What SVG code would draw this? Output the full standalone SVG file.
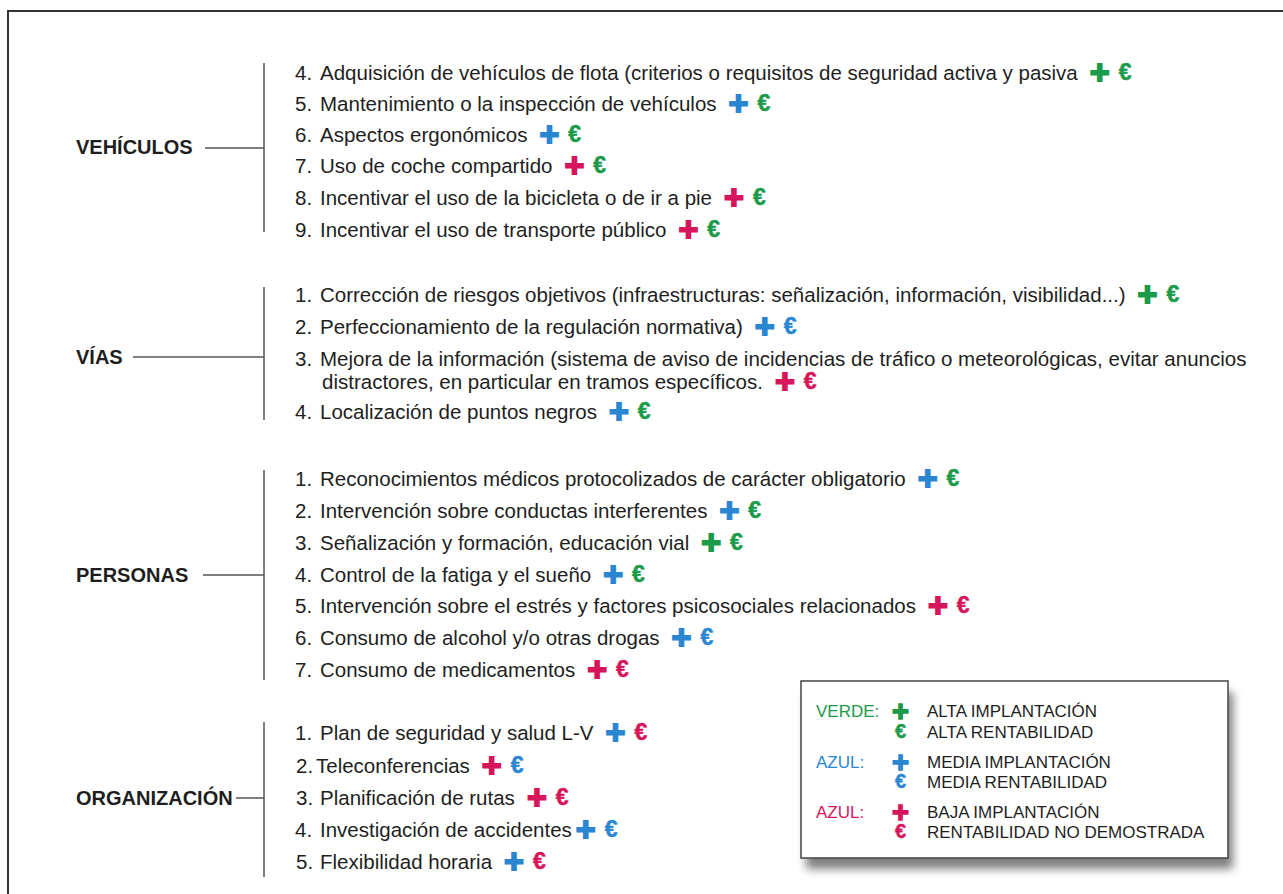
<svg xmlns="http://www.w3.org/2000/svg" width="1283" height="894" viewBox="0 0 1283 894">
<style>
text{font-family:"Liberation Sans",Arial,Helvetica,sans-serif;fill:#1e1e1e}
.it{font-size:20.5px}
.cat{font-size:20px;font-weight:bold}
.p{font-size:34px;font-weight:bold;stroke-width:1.8}
.e{font-size:23px;font-weight:bold;stroke-width:0.5}
.g{fill:#1b9a4a;stroke:#1b9a4a}
.b{fill:#2b86d2;stroke:#2b86d2}
.m{fill:#d7155c;stroke:#d7155c}
.ln{stroke:#555;stroke-width:1.5;fill:none}
.lg{font-size:17px}
.lp{font-size:29px;font-weight:bold;stroke-width:1.5}
.le{font-size:20px;font-weight:bold;stroke-width:0.4}
.ns{stroke:none}
</style>
<defs>
<filter id="sh" x="-10%" y="-10%" width="130%" height="140%">
<feGaussianBlur stdDeviation="5"/>
</filter>
</defs>
<path d="M8,894 V11 H1283" fill="none" stroke="#333" stroke-width="2"/>
<g id="connectors">
<path class="ln" d="M205,148 H264 M264,63 V232"/>
<path class="ln" d="M133,357 H264 M264,287 V420"/>
<path class="ln" d="M203,575 H264 M264,470 V680"/>
<path class="ln" d="M236,798 H264 M264,722 V877"/>
</g>
<g id="vehiculos">
<text class="cat" x="76" y="154">VEHÍCULOS</text>
<text class="it" y="80"><tspan x="295">4.</tspan><tspan x="320">Adquisición de vehículos de flota (criterios o requisitos de seguridad activa y pasiva</tspan><tspan class="p g" dx="12" dy="4">+</tspan><tspan class="e g" dx="9" dy="-4">€</tspan></text>
<text class="it" y="111"><tspan x="295">5.</tspan><tspan x="320">Mantenimiento o la inspección de vehículos</tspan><tspan class="p b" dx="12" dy="4">+</tspan><tspan class="e g" dx="9" dy="-4">€</tspan></text>
<text class="it" y="142"><tspan x="295">6.</tspan><tspan x="320">Aspectos ergonómicos</tspan><tspan class="p b" dx="12" dy="4">+</tspan><tspan class="e g" dx="9" dy="-4">€</tspan></text>
<text class="it" y="173"><tspan x="295">7.</tspan><tspan x="320">Uso de coche compartido</tspan><tspan class="p m" dx="12" dy="4">+</tspan><tspan class="e g" dx="9" dy="-4">€</tspan></text>
<text class="it" y="205"><tspan x="295">8.</tspan><tspan x="320">Incentivar el uso de la bicicleta o de ir a pie</tspan><tspan class="p m" dx="12" dy="4">+</tspan><tspan class="e g" dx="9" dy="-4">€</tspan></text>
<text class="it" y="237"><tspan x="295">9.</tspan><tspan x="320">Incentivar el uso de transporte público</tspan><tspan class="p m" dx="12" dy="4">+</tspan><tspan class="e g" dx="9" dy="-4">€</tspan></text>
</g>
<g id="vias">
<text class="cat" x="76" y="364">VÍAS</text>
<text class="it" y="302"><tspan x="295">1.</tspan><tspan x="320">Corrección de riesgos objetivos (infraestructuras: señalización, información, visibilidad...)</tspan><tspan class="p g" dx="12" dy="4">+</tspan><tspan class="e g" dx="9" dy="-4">€</tspan></text>
<text class="it" y="334"><tspan x="295">2.</tspan><tspan x="320">Perfeccionamiento de la regulación normativa)</tspan><tspan class="p b" dx="12" dy="4">+</tspan><tspan class="e b" dx="9" dy="-4">€</tspan></text>
<text class="it" y="366"><tspan x="295">3.</tspan><tspan x="320">Mejora de la información (sistema de aviso de incidencias de tráfico o meteorológicas, evitar anuncios</tspan></text>
<text class="it" y="389"><tspan x="322">distractores, en particular en tramos específicos.</tspan><tspan class="p m" dx="12" dy="4">+</tspan><tspan class="e m" dx="9" dy="-4">€</tspan></text>
<text class="it" y="419"><tspan x="295">4.</tspan><tspan x="320">Localización de puntos negros</tspan><tspan class="p b" dx="12" dy="4">+</tspan><tspan class="e g" dx="9" dy="-4">€</tspan></text>
</g>
<g id="personas">
<text class="cat" x="76" y="582">PERSONAS</text>
<text class="it" y="486"><tspan x="295">1.</tspan><tspan x="320">Reconocimientos médicos protocolizados de carácter obligatorio</tspan><tspan class="p b" dx="12" dy="4">+</tspan><tspan class="e g" dx="9" dy="-4">€</tspan></text>
<text class="it" y="518"><tspan x="295">2.</tspan><tspan x="320">Intervención sobre conductas interferentes</tspan><tspan class="p b" dx="12" dy="4">+</tspan><tspan class="e g" dx="9" dy="-4">€</tspan></text>
<text class="it" y="550"><tspan x="295">3.</tspan><tspan x="320">Señalización y formación, educación vial</tspan><tspan class="p g" dx="12" dy="4">+</tspan><tspan class="e g" dx="9" dy="-4">€</tspan></text>
<text class="it" y="582"><tspan x="295">4.</tspan><tspan x="320">Control de la fatiga y el sueño</tspan><tspan class="p b" dx="12" dy="4">+</tspan><tspan class="e g" dx="9" dy="-4">€</tspan></text>
<text class="it" y="613"><tspan x="295">5.</tspan><tspan x="320">Intervención sobre el estrés y factores psicosociales relacionados</tspan><tspan class="p m" dx="12" dy="4">+</tspan><tspan class="e m" dx="9" dy="-4">€</tspan></text>
<text class="it" y="645"><tspan x="295">6.</tspan><tspan x="320">Consumo de alcohol y/o otras drogas</tspan><tspan class="p b" dx="12" dy="4">+</tspan><tspan class="e b" dx="9" dy="-4">€</tspan></text>
<text class="it" y="677"><tspan x="295">7.</tspan><tspan x="320">Consumo de medicamentos</tspan><tspan class="p m" dx="12" dy="4">+</tspan><tspan class="e m" dx="9" dy="-4">€</tspan></text>
</g>
<g id="organizacion">
<text class="cat" x="76" y="805">ORGANIZACIÓN</text>
<text class="it" y="740"><tspan x="295">1.</tspan><tspan x="320">Plan de seguridad y salud L-V</tspan><tspan class="p b" dx="12" dy="4">+</tspan><tspan class="e m" dx="9" dy="-4">€</tspan></text>
<text class="it" y="773"><tspan x="296">2.</tspan><tspan x="316">Teleconferencias</tspan><tspan class="p m" dx="12" dy="4">+</tspan><tspan class="e b" dx="9" dy="-4">€</tspan></text>
<text class="it" y="805"><tspan x="296">3.</tspan><tspan x="320">Planificación de rutas</tspan><tspan class="p m" dx="12" dy="4">+</tspan><tspan class="e m" dx="9" dy="-4">€</tspan></text>
<text class="it" y="837"><tspan x="295">4.</tspan><tspan x="320">Investigación de accidentes</tspan><tspan class="p b" dx="4" dy="4">+</tspan><tspan class="e b" dx="9" dy="-4">€</tspan></text>
<text class="it" y="869"><tspan x="296">5.</tspan><tspan x="320">Flexibilidad horaria</tspan><tspan class="p b" dx="12" dy="4">+</tspan><tspan class="e m" dx="9" dy="-4">€</tspan></text>
</g>
<g id="legend">
<rect x="806" y="692" width="427" height="177" fill="#000" opacity="0.5" filter="url(#sh)"/>
<rect x="801" y="681" width="427" height="177" fill="#fff" stroke="#444" stroke-width="1.5"/>
<text class="lg g ns" x="816" y="717">VERDE:</text>
<text class="lp g" x="892" y="721">+</text>
<text class="lg" x="927" y="717">ALTA IMPLANTACIÓN</text>
<text class="le g" x="895" y="738">€</text>
<text class="lg" x="927" y="738">ALTA RENTABILIDAD</text>
<text class="lg b ns" x="816" y="768">AZUL:</text>
<text class="lp b" x="892" y="772">+</text>
<text class="lg" x="927" y="768">MEDIA IMPLANTACIÓN</text>
<text class="le b" x="895" y="788">€</text>
<text class="lg" x="927" y="788">MEDIA RENTABILIDAD</text>
<text class="lg m ns" x="816" y="818">AZUL:</text>
<text class="lp m" x="892" y="822">+</text>
<text class="lg" x="927" y="818">BAJA IMPLANTACIÓN</text>
<text class="le m" x="895" y="838">€</text>
<text class="lg" x="927" y="838">RENTABILIDAD NO DEMOSTRADA</text>
</g>
</svg>
